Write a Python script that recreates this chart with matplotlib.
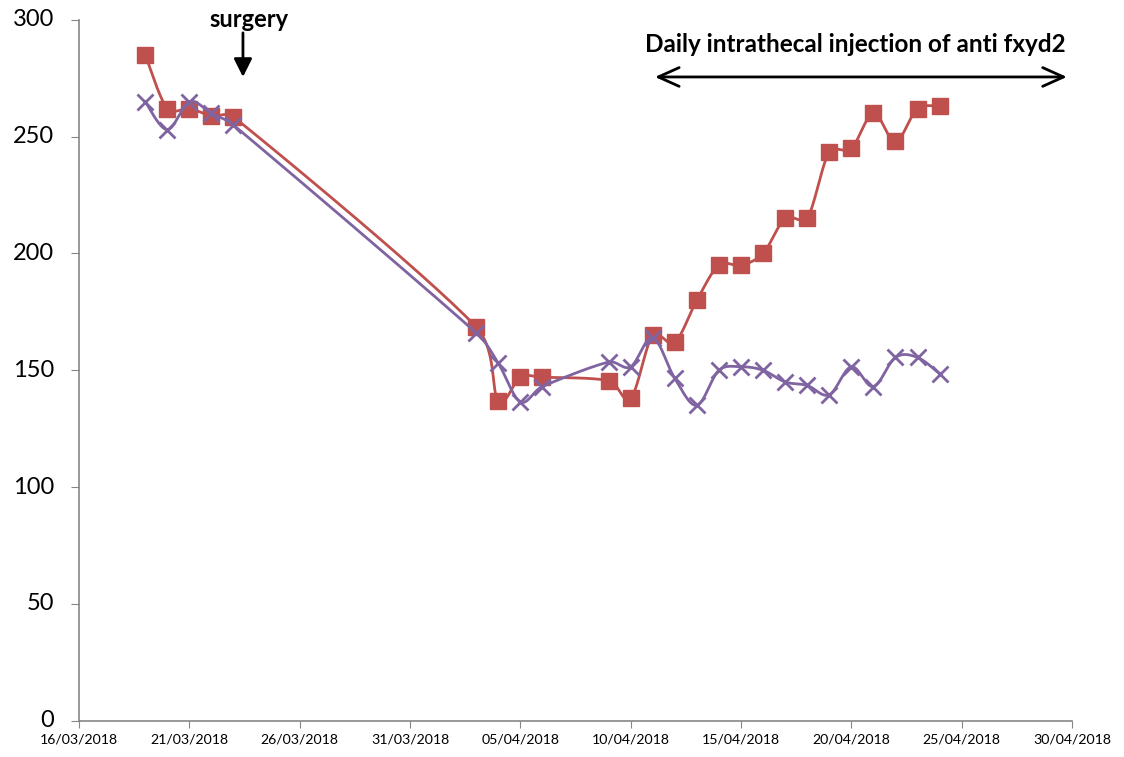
import numpy as np
import pandas as pd
import matplotlib
matplotlib.use("Agg")
import matplotlib.pyplot as plt
import matplotlib.dates as mdates

plt.rcParams['font.family'] = ['Lato', 'DejaVu Sans']

# ---------- DATA ----------
dates = ['19/03/2018', '20/03/2018', '21/03/2018', '22/03/2018', '23/03/2018',
         '03/04/2018', '04/04/2018', '05/04/2018', '06/04/2018', '09/04/2018',
         '10/04/2018', '11/04/2018', '12/04/2018', '13/04/2018', '14/04/2018',
         '15/04/2018', '16/04/2018', '17/04/2018', '18/04/2018', '19/04/2018',
         '20/04/2018', '21/04/2018', '22/04/2018', '23/04/2018', '24/04/2018']
treated = [285, 262, 262, 259, 258.5, 168.5, 137, 147, 147, 145.5,
           138, 165, 162, 180, 195, 195, 200, 215, 215, 243.5,
           245, 260, 248, 262, 263]
control = [265, 253, 265, 260, 255, 166, 153, 136.5, 143, 153.5,
           151.5, 164, 146.5, 135, 150, 151.5, 150, 145, 143.5, 139.5,
           151.5, 143, 155.5, 155.5, 148.5]
xticks = pd.date_range('2018-03-16', '2018-04-30', freq='5D')

x = mdates.date2num(pd.to_datetime(dates, format='%d/%m/%Y'))


def smooth(xs, ys, sx=22.07, sy=2.335, n=30, k=0.4):
    # smoothed line like Excel: Catmull-Rom Bezier segments, with control
    # handles clamped to a share of the segment length (avoids loops)
    p = np.column_stack([np.asarray(xs) * sx, np.asarray(ys) * sy])
    m = len(p)
    pts = [p[0]]
    t = np.linspace(0, 1, n)[1:, None]

    def handle(v, L):
        d = np.hypot(*v)
        return v if d <= k * L else v * (k * L / d)

    for i in range(m - 1):
        L = np.hypot(*(p[i + 1] - p[i]))
        p0 = p[i - 1] if i > 0 else p[i]
        p3 = p[i + 2] if i + 2 < m else p[i + 1]
        c1 = p[i] + handle((p[i + 1] - p0) / 6, L)
        c2 = p[i + 1] - handle((p3 - p[i]) / 6, L)
        seg = ((1 - t) ** 3) * p[i] + 3 * ((1 - t) ** 2) * t * c1 \
            + 3 * (1 - t) * t ** 2 * c2 + t ** 3 * p[i + 1]
        pts.extend(seg)
    pts = np.array(pts)
    return pts[:, 0] / sx, pts[:, 1] / sy


red = '#C0504D'
purple = '#8064A2'

# ---------- PLOT ----------
fig = plt.figure(figsize=(11.24, 7.57), dpi=100)
ax = fig.add_axes([0.0703, 0.0482, 0.8834, 0.9254])

sx, sy = smooth(x, treated)
ax.plot(sx, sy, color=red, linewidth=2.0, zorder=2)
ax.plot(x, treated, linestyle='none', marker='s', markersize=11,
        color=red, zorder=3)

sx, sy = smooth(x, control)
ax.plot(sx, sy, color=purple, linewidth=2.0, zorder=4)
ax.plot(x, control, linestyle='none', marker='x', markersize=11,
        markeredgewidth=2, color=purple, zorder=5)

ax.set_xlim(mdates.date2num(xticks[0]), mdates.date2num(xticks[-1]))
ax.set_ylim(0, 300)
ax.set_yticks(range(0, 301, 50))
ax.set_xticks(mdates.date2num(xticks))
ax.set_xticklabels([d.strftime('%d/%m/%Y') for d in xticks], fontsize=10.2)
ax.tick_params(axis='y', labelsize=17, length=6, color='#868686', pad=12)
ax.tick_params(axis='x', length=5, color='#868686', pad=4)
for s in ['top', 'right']:
    ax.spines[s].set_visible(False)
for s in ['left', 'bottom']:
    ax.spines[s].set_color('#868686')
    ax.spines[s].set_linewidth(1.2)
for lab in ax.get_yticklabels():
    lab.set_verticalalignment('center')

# annotations
base = mdates.date2num(pd.Timestamp('2018-03-16'))
ax.text(base + 7.7, 300, 'surgery', ha='center', va='center',
        fontsize=17, fontweight='bold', clip_on=False)
ax.annotate('', xy=(base + 7.43, 275.6), xytext=(base + 7.43, 294.5),
            arrowprops=dict(arrowstyle='-|>,head_length=1,head_width=0.5',
                            color='black', lw=2, mutation_scale=11,
                            shrinkA=0, shrinkB=0))
ax.text(base + 35.16, 289.3, 'Daily intrathecal injection of anti fxyd2',
        ha='center', va='center', fontsize=17.5, fontweight='bold')
ax.annotate('', xy=(base + 26.1, 275.6), xytext=(base + 44.77, 275.6),
            arrowprops=dict(arrowstyle='<->,head_length=1,head_width=0.45',
                            color='black', lw=2, mutation_scale=15,
                            shrinkA=0, shrinkB=0))

fig.savefig('out.png', dpi=100)
